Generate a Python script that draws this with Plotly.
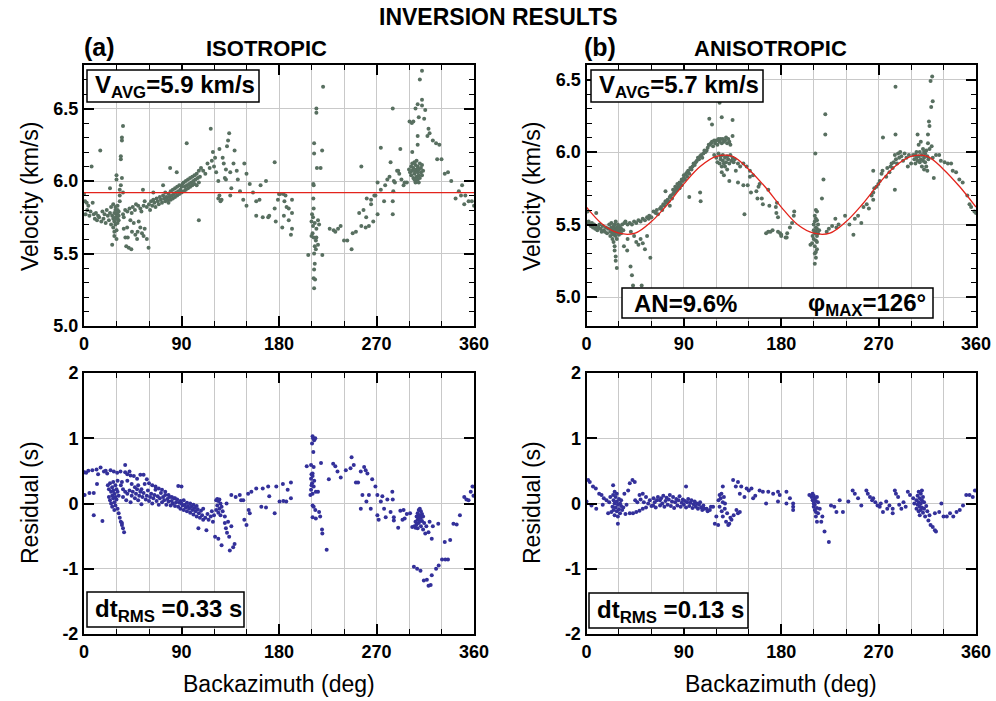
import plotly.graph_objects as go

# ---------------- DATA ----------------
# (a) isotropic: backazimuth (deg), velocity (km/s)
iso_vel_pts = [
    (0,5.91),(1,5.86),(1.5,5.77),(2.5,5.85),(3,5.80),(4,5.83),(5,5.76),(6,5.79),(7,6.10),(8,5.85),(9,5.77),(10,5.74),
    (11,5.78),(12,5.73),(13,5.76),(14,5.75),(15,6.21),(16,5.72),(17,5.79),(18,5.74),(19,5.77),(20,5.71),(21,5.80),
    (22,5.76),(23,5.73),(24,5.95),(24,5.78),(25,5.70),(25,5.82),(26,5.76),(26,5.56),(27,5.74),(27,5.68),(27,5.84),
    (28,5.78),(28,5.72),(28,5.65),(28,5.62),(29,5.80),(29,5.75),(29,5.70),(29,5.82),(30,5.77),(30,5.74),(30,5.66),
    (30,5.60),(30,6.01),(30,6.04),(31,5.78),(31,5.74),(31,5.80),(31,5.83),(31,5.71),(32,5.76),(32,5.73),(32,5.79),
    (33,5.90),(33,5.94),(33,5.86),(34,6.15),(34,6.17),(34,5.97),(35,6.28),(35,6.30),(36,6.38),(35,6.02),(36,5.92),
    (36.7,5.67),(39.8,5.68),(38.2,5.61),(40.4,5.61),(39,5.55),(41.3,5.54),(43.7,5.53),(44.3,5.65),(47.4,5.63),
    (49,5.60),(49.5,5.65),(52,5.68),(53.5,5.64),(55,5.62),(56,5.67),(58,5.60),(59.6,5.54),(45.9,5.71),(50.5,5.72),
    (42.8,5.73),(36.7,5.75),
    (36,5.77),(38,5.80),(40,5.79),(42,5.81),(44,5.78),(45,5.82),(47,5.80),(48,5.84),(50,5.83),(52,5.81),(53,5.79),
    (54.4,5.94),(55,5.83),(56,5.86),(58,5.82),(60,5.84),(61,5.80),(62,5.86),(63,5.83),(64,5.92),(64,5.87),(65,5.85),
    (66,5.82),(67,5.88),(68,5.86),(69,5.84),(70,5.89),(71,5.87),(72,5.85),(73,5.97),(73,5.90),(74,5.88),(75,5.86),
    (75,5.92),(76,5.89),(77,5.87),(78,5.91),(78,5.85),(79,5.89),(79.5,6.09),(80,5.93),(80,5.87),(81,5.90),(82,5.88),
    (82,5.94),(83,5.91),(84,5.89),(84,5.95),(85,5.92),(85.6,6.06),(86,5.90),(86,5.96),(87,5.93),(88,5.91),(88,5.97),
    (89,5.94),(90,5.92),(90,5.96),(91,5.98),(92,5.93),(92,5.99),(93,5.96),(94,5.94),(94,6.00),(94.8,6.26),(95,5.97),
    (96,5.95),(96,6.01),(97,5.98),(98,5.96),(98,6.02),(99,5.99),(100,5.97),(100,6.03),(101,6.00),(102,5.98),(102,6.04),
    (103,6.01),(104,6.05),(104,5.97),(105,6.02),(106,6.07),(106,5.99),(106,5.73),(107,6.03),(108,6.09),
    (110,6.07),(112,6.05),(114,6.12),(116,6.09),(117,6.36),(118,6.14),(119,6.20),(120,6.10),(121,6.16),(122,6.06),
    (124,6.00),(124,5.88),(125,6.22),(125,5.90),(126,5.86),(127,5.87),(128,6.16),(129,6.12),(130,6.02),(131,6.01),
    (131,6.08),(132,6.24),(133,6.28),(134,6.33),(135,5.90),(135,6.06),(136,5.95),(138,6.12),(139,6.21),(141,6.07),
    (142,6.01),(144,5.93),(147,5.87),(148,6.12),(150,6.05),(150,5.83),(153,5.98),(156,5.92),(159,5.86),(159,5.76),
    (162,5.87),(163,5.97),(165,5.75),(168,6.00),(170,5.75),(171,5.76),(176,6.13),(176,5.81),(177,5.72),(179,5.87),
    (180,5.91),(181,5.91),(183,5.68),(184,5.91),(184.5,5.76),(185,5.86),(186,5.90),(187,5.82),(189,5.81),(189,5.73),
    (191,5.63),(192,5.87),(192,5.78),(192,5.67),
    (220.7,6.65),(214.5,6.50),(214.5,6.47),(212.4,6.26),(212.4,6.19),(219.8,6.21),(215,6.09),(218.4,6.09),(211.7,5.98),
    (212,5.97),(211.7,5.88),(212,5.81),(210.5,5.77),(211.4,5.75),(216,5.73),(210,5.72),(213,5.71),(217,5.70),
    (211.4,5.69),(214.5,5.67),(211,5.64),(210,5.62),(212,5.61),(214.5,5.61),(214,5.59),(216,5.56),(213,5.55),
    (214,5.53),(207,5.49),(220,5.49),(212.4,5.50),(213,5.43),(212.4,5.39),(212,5.33),(213.3,5.32),(212.4,5.26),
    (226.8,5.67),(230.5,5.66),(232,5.65),(234.5,5.67),(236.9,5.69),(240,5.59),(243,5.59),(247,5.53),(248,5.64),
    (251,5.65),(254,5.78),(256,6.10),(256,5.69),(258,5.80),(260,5.68),(260.5,5.75),(261,5.88),(263,5.69),(265,5.87),
    (265,5.84),(267,5.72),(268,5.90),(269,5.90),(271,5.77),(271,5.99),(274,6.23),(274,5.94),(277,5.86),(278,5.97),
    (280,6.01),(282,6.03),(283,6.13),(285,6.50),(285,5.77),(285,5.86),(285.5,5.93),(286,6.00),(287,5.99),(289,6.07),
    (290,6.07),(291,6.05),(292,6.22),(293,6.01),(295,5.97),(296,5.99),(298,5.99),
    (300,6.08),(301,6.06),(302,6.10),(302,6.04),(303,6.07),(303,6.12),(304,6.02),(304,6.09),(305,6.05),(305,6.13),
    (306,6.00),(306,6.07),(306,6.11),(307,6.03),(307,6.08),(307,6.14),(308,6.01),(308,6.06),(308,6.10),(309,6.04),
    (309,6.08),(310,6.02),(310,6.12),(311,6.06),(311,6.09),(312,6.04),(312,6.11),(313,6.07),(306,5.99),(305,6.01),
    (309,5.99),
    (300.5,6.41),(302.6,6.40),(304,6.41),(306,6.50),(308,6.53),(312,6.56),(312,6.52),(310,6.70),(312,6.76),(309,6.44),
    (314,6.43),(315,6.49),(308,6.31),(308,6.25),(303,6.20),(318,6.36),(319,6.33),(317,6.31),(322,6.28),(325,6.26),
    (328,6.25),(326,6.15),(330,6.15),(333,6.05),(336,6.06),(339,6.00),(346,5.93),(343,5.88),(348,5.90),(349,5.97),
    (351,5.84),(352,5.90),(355,5.86),(358,5.86),(360,5.83),
]
iso_vavg = 5.92

# (b) anisotropic: backazimuth (deg), velocity (km/s)
ani_vel_pts = [
    (0,5.51),(1,5.59),(2,5.52),(3,5.50),(4,5.49),(5,5.51),(6,5.48),(7,5.50),(8,5.47),(9,5.58),(9,5.49),(10,5.46),
    (11,5.48),(12,5.50),(13,5.47),(14,5.45),(15,5.49),(16,5.46),(17,5.45),(18,5.48),(19,5.44),(20,5.47),(21,5.50),
    (22,5.45),(22,5.42),(23,5.48),(23,5.51),(24,5.44),(24,5.47),(24,5.40),(25,5.49),(25,5.45),(25,5.43),(25,5.38),
    (26,5.47),(26,5.44),(26,5.50),(26,5.35),(26,5.32),(27,5.46),(27,5.42),(27,5.52),(27,5.28),(27,5.25),(28,5.45),
    (28,5.48),(28,5.40),(28,5.20),(29,5.44),(29,5.47),(29,5.50),(30,5.46),(30,5.43),(30,5.49),(31,5.45),(31,5.48),
    (32,5.44),(32,5.47),(33,5.50),(34,5.46),(35,5.51),(34.6,5.35),(37.6,5.32),(40.7,5.21),(42,5.15),(43,5.08),
    (51,5.08),(38,5.40),(41,5.45),(44,5.42),(46,5.38),(48,5.36),(50,5.40),(52,5.37),(54,5.33),(56,5.42),(59,5.27),
    (36,5.52),(38,5.50),(40,5.51),(42,5.50),(44,5.52),(46,5.51),(48,5.53),(50,5.52),(52,5.54),(54,5.53),(56,5.55),
    (57.5,5.54),(58,5.56),(60,5.55),(62,5.59),(64,5.58),(65,5.60),(66,5.57),(68,5.61),(69,5.62),(70,5.60),(71,5.64),
    (72,5.63),(73,5.66),(73,5.73),(74,5.65),(75,5.67),(76,5.66),(77,5.69),(77,5.63),(78,5.70),(79,5.68),(80,5.71),
    (80,5.74),(81,5.72),(82,5.73),(82,5.76),(83,5.75),(84,5.74),(84,5.78),(85,5.76),(86,5.79),(86,5.75),(87,5.78),
    (88,5.81),(88,5.77),(89,5.80),(90,5.84),(90,5.82),(91,5.81),(92,5.85),(93,5.83),(93,5.86),(94,5.87),(95,5.85),
    (95,5.69),(96,5.89),(97,5.88),(98,5.90),(99,5.92),(100,5.91),(101,5.93),(102,5.94),(103,5.96),(104,5.95),
    (105,5.97),(105,5.72),(105.5,5.66),(106,5.98),(107,5.96),(108,5.99),(109,6.01),(110,6.00),(111,6.01),(112,6.03),
    (113,6.05),(113.5,6.23),(114,6.05),(115,6.06),(116,6.19),(116,6.07),(117,6.04),(118,6.08),(119,6.06),(120,6.08),
    (121,6.05),(122,6.09),(123,6.34),(123,6.07),(124,6.09),(125,6.24),(125,6.06),(126,6.09),(127,6.07),(128,6.08),
    (129,6.10),(130,6.06),(131,6.09),(132,6.07),(133,6.05),(135,6.11),(135,6.22),
    (118,5.98),(120,5.96),(121,5.93),(122,5.99),(123,5.92),(124,5.95),(124,5.97),(125,5.86),(125,5.90),(126,5.94),
    (126,5.98),(127,5.92),(127,5.84),(128,5.96),(128,5.90),(129,5.93),(130,5.97),(130,5.88),(131,5.95),(132,5.92),
    (132,5.80),(133,5.98),(134,5.94),(135,5.96),(136,5.93),(137,5.95),(138,5.87),(140,5.79),(140,5.92),(142,5.90),
    (145,5.77),(145,5.92),(146,5.57),(148,5.90),(149,5.77),(151,5.83),(151,5.87),(152,5.72),(154,5.84),(157,5.73),
    (158,5.68),(159,5.76),(160,5.78),(162,5.68),(163,5.64),(166,5.44),(168,5.74),(168,5.45),(169,5.63),(170,5.45),
    (172,5.46),(175,5.62),(175.5,5.58),(177,5.55),(177,5.45),(180,5.43),(180,5.42),(185,5.41),(179,5.44),(184,5.41),
    (185.5,5.44),(188,5.48),(190,5.51),(191.6,5.56),(192,5.59),(176,5.65),
    (211.5,5.99),(220.7,6.26),(220.7,6.12),(219,5.81),(217.6,5.68),(212,5.60),(213,5.59),(211,5.56),(212,5.54),
    (213,5.53),(210,5.50),(211,5.52),(212,5.48),(213,5.47),(214,5.50),(210,5.46),(211,5.44),(212,5.45),(213,5.42),
    (214,5.44),(209,5.42),(210,5.40),(212,5.39),(213,5.38),(208.5,5.37),(211,5.35),(213,5.33),(212,5.31),(211,5.30),
    (212,5.27),(211,5.23),(207,5.36),(215,5.46),
    (222,5.45),(224,5.47),(227,5.49),(230,5.54),(231,5.48),(233,5.50),(239,5.56),(243,5.50),(246.7,5.43),(248,5.54),
    (251,5.56),(254,5.51),(256,5.62),(259,5.64),(261,5.61),(263.5,5.70),(265,5.67),(265,5.72),(266,5.75),(268,5.76),
    (269.7,5.78),(271,5.80),(272.7,5.85),(273.6,5.87),(265,5.87),(274,6.10),(277,5.83),(278,5.89),(280,5.86),
    (281,5.90),(282,5.92),(283,5.89),(284,5.93),(285,5.74),(285,5.98),(285.6,6.12),(285.6,6.45),(286,5.95),(287,5.92),
    (288,5.99),(289,5.96),(290,6.00),(291,5.97),(292.6,5.94),(294,5.99),(295.7,5.96),(297,5.90),(298,5.98),(300,5.92),
    (302,5.98),
    (303,5.95),(304,5.98),(304,5.92),(305,6.00),(305,5.96),(306,6.12),(306,5.94),(307,6.05),(307,5.97),(308,5.93),
    (308,6.00),(309,6.07),(309,5.95),(310,5.98),(310,5.90),(311,6.02),(311,5.94),(312,6.00),(312,5.96),(312,5.88),
    (313,5.99),(313,5.93),(314,6.01),(314,5.90),(315,5.97),(315,5.87),(315.6,6.12),(315.6,6.06),(316,5.95),
    (316.5,6.21),(317,6.02),(317,6.18),(318,6.49),(318.6,6.31),(319,6.04),(319.5,6.52),(320,6.35),(320,5.96),
    (321,5.82),
    (323,5.98),(326,5.98),(327.5,5.94),(331,5.93),(334,5.92),(337,5.92),(338.5,5.87),(341.6,5.86),(344.6,5.81),
    (347.7,5.79),(352,5.70),(354,5.64),(355.5,5.62),(358.5,5.59),(360,5.58),
]
# fitted anisotropic curve, every 15 deg
fit_baz = [0,15,30,45,60,75,90,105,120,135,150,165,180,195,210,225,240,255,270,285,300,315,330,345,360]
fit_vel = [5.62,5.50,5.44,5.44,5.52,5.64,5.78,5.90,5.97,5.97,5.88,5.76,5.62,5.50,5.44,5.44,5.52,5.64,5.78,5.90,
           5.97,5.97,5.88,5.76,5.62]

# (a) isotropic residuals (s)
iso_res_pts = [
    (0.5,0.48),(0.6,0.13),(2,0.47),(4,0.50),(5,0.16),(7.7,0.51),(9,0.16),(9,-0.18),(11.6,0.52),(12,0.30),(13,0.45),
    (15.3,0.55),(17,-0.27),(18.4,0.49),(20,0.50),(21.4,0.46),(22,0.28),(23,0.22),(23,0.10),(24,0.31),(24.5,0.51),
    (24,0.05),(25,0.18),(25,0.00),(26,0.25),(26,0.12),(26,-0.05),(27,0.33),(27,0.20),(27,0.08),(27.5,0.49),(28,0.15),
    (28,0.02),(28,-0.10),(29,0.28),(29,0.10),(29,-0.03),(30,0.22),(30,0.06),(30.6,0.47),(31,0.18),(31,0.35),
    (31,-0.08),(32,0.12),(32,-0.15),(33,-0.22),(33.7,0.49),(34,-0.28),(35,-0.30),(35,-0.33),(36,-0.38),(37,-0.44),
    (34,0.28),(35,0.33),(36,0.22),(38,0.59),(38,0.48),(40,0.45),(40,0.35),(42,0.49),(43,0.43),(44,0.30),(46,0.42),
    (47,0.25),(49,0.38),(50,0.28),(52,0.44),(53,0.22),(55,0.44),(56,0.30),(58,0.37),(60,0.31),(63,0.28),(66,0.26),
    (69,0.23),(72,0.21),(75,0.18),(78,0.13),(81,0.10),(84,0.08),(87,0.27),(90,0.26),
    (36,0.10),(38,0.18),(39,0.05),(40,0.15),(42,0.20),(43,0.02),(44,0.12),(45,0.18),(47,0.08),(48,0.15),(49,0.22),
    (50,0.05),(51,0.12),(52,0.18),(53,-0.01),(54,0.10),(55,0.16),(57,0.06),(58,0.12),(59,0.20),(60,0.04),(61,0.10),
    (62,0.15),(63,0.00),(64,0.08),(65,0.13),(66,0.21),(67,0.04),(68,0.11),(69,-0.02),(70,0.08),(71,0.16),(72,0.02),
    (73,0.10),(74,0.05),(75,0.13),(76,-0.02),(77,0.07),(78,0.03),(79,0.10),(80,-0.03),(81,0.04),(82,0.00),(83,0.08),
    (84,-0.04),(85,0.02),(86,0.06),(87,-0.05),(88,0.01),(89,0.04),(89,-0.08),(90,0.00),(91,-0.03),(92,0.05),
    (92,-0.10),(93,-0.02),(94,-0.06),(95,0.01),(95,-0.12),(96,-0.04),(97,-0.08),(98,0.00),(98,-0.14),(99,-0.05),
    (100,-0.10),(101,-0.02),(101,-0.17),(102,-0.07),(103,-0.12),(104,-0.04),(104,-0.20),(105,-0.09),(105.6,-0.38),
    (106,-0.15),(107,-0.22),(108,-0.11),(109,-0.18),(110,-0.25),(110,-0.08),(112,-0.22),(113,-0.41),(114,-0.16),
    (115,-0.25),(117,-0.20),(118,-0.12),(119,-0.28),(120,-0.18),(121,-0.51),(122,-0.10),(122,0.05),(123,0.07),
    (123,-0.03),(124,-0.54),(124,0.04),(124,-0.14),(125,0.06),(125,-0.08),(126,-0.18),(126,0.00),(127,-0.64),
    (127,-0.05),(128,-0.12),(130,-0.20),(130,-0.30),(131,-0.38),(131.6,0.00),(132,-0.45),(133,-0.28),(134,-0.51),
    (134.6,-0.72),(136,0.13),(136,-0.35),(137.7,-0.67),(139,-0.62),(140,0.10),(143.8,0.13),(145,0.05),(147,0.05),
    (148,-0.25),(150,-0.33),(151.5,0.15),(152,-0.10),(153,-0.15),(154.5,0.18),(159,0.23),(163.7,-0.05),(165,0.23),
    (168,-0.06),(170,0.26),(171,0.11),(176,-0.15),(177.5,0.26),(180.5,0.03),(183.6,0.30),(184,0.04),(186.7,0.03),
    (188,0.21),(191,0.32),(191,0.08),
    (205.6,0.57),(211,1.03),(211.5,1.00),(212.5,0.97),(213.5,1.00),(210.5,0.92),(211.7,0.79),(209.6,0.59),(212,0.56),
    (211,0.46),(209.6,0.38),(210.5,0.31),(212,0.26),(209.6,0.21),(211,0.15),(209,0.13),(214,0.18),(216,0.18),
    (211,-0.03),(212,-0.05),(213.5,-0.10),(217,-0.13),(211,-0.21),(214,-0.23),(218,-0.20),(219.7,-0.40),(220,-0.46),
    (224,-0.71),(218.8,0.62),(210,0.45),(211,0.42),(212.5,0.35),(210,0.28),
    (226,0.37),(230,0.61),(232,0.57),(234,0.49),(237,0.40),(241.7,0.51),(246,0.54),(247,0.71),(249,0.59),(251,0.32),
    (253,0.32),(255.5,0.49),(255.5,-0.08),(257,0.13),(258.6,0.56),(260,0.51),(261.6,0.46),(260.7,0.03),(263,0.13),
    (264.7,-0.08),(266,0.37),(269,0.26),(270.8,0.13),(270.8,-0.18),(272,-0.25),(274,0.03),(275.4,0.11),(277,-0.08),
    (278.5,-0.21),(280,0.06),(283,-0.13),(284.6,0.18),(285,0.06),(286,-0.21),(286,-0.26),(290,-0.37),(292,-0.11),
    (294,-0.25),(295,-0.10),(296,-0.23),(298,-0.16),(301,-0.15),(303,-0.36),
    (305,-0.35),(306,-0.28),(306,-0.37),(307,-0.20),(307,-0.32),(308,-0.15),(308,-0.25),(308,-0.38),(309,-0.10),
    (309,-0.22),(309,-0.30),(310,-0.08),(310,-0.18),(310,-0.27),(311,-0.12),(311,-0.22),(311,-0.35),(312,-0.16),
    (312,-0.27),(313,-0.20),(313,-0.40),(314,-0.30),(315,-0.46),(316,-0.35),(318,-0.44),(321,-0.54),(319,-0.28),
    (322,-0.35),(327,-0.31),
    (304.5,-0.97),(307.5,-1.00),(310.6,-1.03),(313.7,-1.18),(316.5,-1.17),(318,-1.26),(320,-1.25),(321,-1.10),
    (325,-1.00),(327.4,-0.95),(330.5,-0.86),(333.5,-0.86),(336,-0.86),(333,-0.59),(338,-0.56),(341,-0.31),
    (344,-0.32),(347,-0.18),(351,0.10),(353,0.06),(355,0.05),(357,0.18),(358.6,0.26),(359.5,0.12),
]

# (b) anisotropic residuals (s)
ani_res_pts = [
    (0,0.03),(1.5,0.36),(3,0.33),(4.6,-0.03),(6,0.26),(8.6,0.23),(9,-0.08),(11.7,0.15),(13.9,0.13),(15,-0.02),
    (16,0.08),(18.5,0.05),(20,-0.15),(21,0.02),(22,0.10),(23,-0.13),(24.6,0.28),(24.6,0.13),(24,-0.05),(25,0.05),
    (25,-0.10),(26,0.18),(26,0.00),(26,-0.18),(27,0.10),(27,-0.06),(28,0.03),(28,-0.12),(28,0.15),(29,-0.31),
    (29,-0.02),(29,-0.20),(30,0.07),(30,-0.09),(31,0.00),(31,-0.15),(32,-0.04),(32,0.05),(33,-0.10),(34,-0.06),
    (35,0.15),(36,-0.16),(37,-0.02),(38.5,0.20),(40,0.31),(40,-0.15),(42.5,0.36),(43,-0.15),(44.6,0.33),(45,0.05),
    (46,-0.13),(47,0.02),(49,0.13),(49,-0.11),(50,0.06),(52,0.15),(52,-0.08),(53,0.02),(55,0.10),(55,-0.06),
    (57,0.00),(58.5,0.05),(60,-0.04),(61.6,-0.03),(62,0.08),(63,0.02),(64,-0.06),(65,0.05),(66,0.10),(67.8,0.05),
    (68,-0.03),(69,0.08),(70,0.00),(71,0.12),(72,-0.05),(73,0.04),(74,0.09),(75,-0.02),(76,0.06),(77,0.13),
    (78,-0.04),(79,0.03),(80,0.10),(81,-0.07),(82,0.02),(83,0.07),(84,-0.03),(85,0.05),(86,0.11),(87,-0.05),
    (88,0.01),(89,0.06),(90,-0.02),(91,0.04),(92,0.26),(92,-0.06),(93,0.02),(94,0.07),(95,-0.04),(96,0.01),
    (97,0.05),(98,-0.07),(99,-0.01),(100,0.03),(101,-0.05),(102,0.00),(103,-0.08),(104,-0.02),(105,0.02),
    (106,-0.06),(107,-0.10),(108,-0.03),(109,-0.08),(111,-0.08),(112,-0.12),(114,-0.10),(115,-0.05),(117,-0.05),
    (118.6,-0.31),(120,-0.20),(121.7,-0.33),(122,0.05),(123,0.13),(123,-0.05),(124,0.08),(124.7,0.15),(125,-0.12),
    (126,0.26),(126,0.02),(126,-0.20),(127,0.10),(127.8,-0.08),(128,0.00),(129,-0.28),(130,-0.15),(131,-0.33),
    (132,-0.31),(133,-0.22),(134,-0.25),(135.5,0.36),(136,-0.18),(138,0.26),(138.6,-0.10),(140,0.33),(140,-0.15),
    (141.7,0.15),(141.7,-0.13),(143,0.26),(146,0.10),(148,0.23),(150,0.20),(152.5,0.23),(154,0.08),(156,0.12),
    (160,0.20),(163,0.18),(166,0.00),(168,0.18),(172.5,0.15),(177,0.18),(177,0.03),(178.6,0.13),(184.8,0.18),
    (184.8,0.00),(188,0.08),(191,0.00),(191,-0.05),(191,-0.10),
    (206,0.13),(208,0.10),(209,0.15),(209,0.05),(210,0.12),(210,0.00),(210,-0.05),(211,0.08),(211,-0.02),
    (211,-0.10),(212,0.04),(212,-0.13),(212,-0.20),(213,0.10),(213,-0.07),(213,-0.28),(214,0.02),(214,-0.15),
    (215.6,-0.08),(218,-0.20),(220,-0.43),(224,-0.59),(217,-0.28),
    (226,-0.03),(229,-0.05),(231,-0.13),(234,0.05),(237,-0.13),(242,0.03),(246,0.20),(248,0.15),(251,0.08),
    (254,-0.03),(258.7,0.20),(260,0.15),(262,0.10),(264,0.05),(265,0.08),(267,0.02),(269,-0.03),(271,-0.05),
    (272,0.00),(274,-0.13),(277,0.03),(278,-0.08),(280,-0.03),(283,-0.08),(283,-0.15),(285,0.20),(286,0.15),
    (288,0.10),(289,-0.02),(291,-0.08),(293,0.02),(295,-0.05),(297,0.18),(299,0.13),(302,0.08),(303,0.00),
    (305,0.05),(305,-0.08),(306,0.12),(306,-0.02),(307,0.18),(307,0.02),(307,-0.12),(308,0.08),(308,-0.05),
    (308,-0.18),(309,0.15),(309,0.00),(309,-0.10),(310,0.20),(310,0.05),(310,-0.06),(311,0.10),(311,-0.14),
    (312,0.02),(312,-0.08),(313,-0.20),(314,-0.04),(315,-0.12),(316,-0.26),(317,-0.18),
    (318,-0.33),(320,-0.36),(322,-0.41),(323,-0.43),(322,-0.15),(326,-0.13),(328,0.00),(330,-0.20),(333,-0.20),
    (336,-0.15),(339,-0.20),(342,-0.13),(345,-0.10),(348,-0.03),(351,0.13),(354,0.13),(357,0.10),(359,0.20),
]

baz_ticks = [0, 90, 180, 270, 360]
res_ticks = [-2, -1, 0, 1, 2]
res_ticklabels = ["-2", "-1", "0", "1", "2"]
vel_ticks = [5.0, 5.5, 6.0, 6.5]

# ---------------- STYLE / LAYOUT ----------------
W, H = 996, 701
def px(x): return x / W
def py(y): return 1 - y / H

VEL_COLOR = "#586f60"
RES_COLOR = "#33309a"
RED = "#e3241c"
GRID = "#c9c9c9"
TICKFONT = dict(family="Liberation Sans, Arial, Helvetica, sans-serif", size=18, color="black", weight="bold")
TXT = "Liberation Sans, Arial, Helvetica, sans-serif"

fig = go.Figure()

def unzip(pts):
    return [p[0] for p in pts], [p[1] for p in pts]

panels = [
    ("x", "y", iso_vel_pts, VEL_COLOR),
    ("x2", "y2", ani_vel_pts, VEL_COLOR),
    ("x3", "y3", iso_res_pts, RES_COLOR),
    ("x4", "y4", ani_res_pts, RES_COLOR),
]
for xa, ya, pts, col in panels:
    xs, ys = unzip(pts)
    fig.add_trace(go.Scatter(x=xs, y=ys, mode="markers", xaxis=xa, yaxis=ya,
                             marker=dict(size=4, color=col), showlegend=False))

fig.add_trace(go.Scatter(x=[0, 360], y=[iso_vavg, iso_vavg], mode="lines", xaxis="x", yaxis="y",
                         line=dict(color=RED, width=1.3), showlegend=False))
fig.add_trace(go.Scatter(x=fit_baz, y=fit_vel, mode="lines", xaxis="x2", yaxis="y2",
                         line=dict(color=RED, width=1.3, shape="spline", smoothing=1.0), showlegend=False))

xdom_l = [px(84), px(474)]
xdom_r = [px(586.5), px(976)]
ydom_t = [py(326), py(65)]
ydom_b = [py(634), py(373)]

def xaxis(dom, anchor):
    return dict(domain=dom, anchor=anchor, range=[0, 360], tickvals=baz_ticks, ticks="inside",
                ticklen=10, tickwidth=1.5, tickcolor="black", showline=True, linecolor="black",
                linewidth=2, mirror="ticks", showgrid=True, gridcolor=GRID, gridwidth=1,
                zeroline=False, tickfont=TICKFONT, automargin=False,
                minor=dict(dtick=30, tick0=0, ticks="inside", ticklen=5, tickwidth=1.2,
                           tickcolor="black", showgrid=True, gridcolor=GRID, gridwidth=1))

def yvel(dom, anchor, rng):
    return dict(domain=dom, anchor=anchor, range=rng, tickvals=vel_ticks, tickformat=".1f",
                ticks="inside", ticklen=10, tickwidth=1.5, tickcolor="black", showline=True,
                linecolor="black", linewidth=2, mirror="ticks", showgrid=True, gridcolor=GRID,
                gridwidth=1, zeroline=False, tickfont=TICKFONT, automargin=False,
                minor=dict(dtick=0.1, tick0=5.0, ticks="inside", ticklen=5, tickwidth=1.2,
                           tickcolor="black", showgrid=False))

def yres(dom, anchor):
    return dict(domain=dom, anchor=anchor, range=[-2, 2], tickvals=res_ticks, ticktext=res_ticklabels,
                ticks="inside", ticklen=10, tickwidth=1.5, tickcolor="black", showline=True,
                linecolor="black", linewidth=2, mirror="ticks", showgrid=True, gridcolor=GRID,
                gridwidth=1, zeroline=False, tickfont=TICKFONT, automargin=False)

fig.update_layout(
    width=W, height=H, margin=dict(l=0, r=0, t=0, b=0, pad=0, autoexpand=False),
    paper_bgcolor="white", plot_bgcolor="white",
    xaxis=xaxis(xdom_l, "y"), yaxis=yvel(ydom_t, "x", [5.0, 6.8]),
    xaxis2=xaxis(xdom_r, "y2"), yaxis2=yvel(ydom_t, "x2", [4.8, 6.6]),
    xaxis3=xaxis(xdom_l, "y3"), yaxis3=yres(ydom_b, "x3"),
    xaxis4=xaxis(xdom_r, "y4"), yaxis4=yres(ydom_b, "x4"),
)

shapes = []
annotations = []

def box(x0, y0, x1, y1):
    shapes.append(dict(type="rect", xref="paper", yref="paper", x0=px(x0), x1=px(x1),
                       y0=py(y1), y1=py(y0), fillcolor="white",
                       line=dict(color="black", width=1.5), layer="above"))

def text(x, y, s, size, bold=True, xanchor="center", angle=0, family=TXT):
    annotations.append(dict(xref="paper", yref="paper", x=px(x), y=py(y), text=s, showarrow=False,
                            xanchor=xanchor, yanchor="middle", textangle=angle,
                            font=dict(family=family, size=size, color="black",
                                      weight="bold" if bold else "normal")))

# titles
text(498, 17, "INVERSION RESULTS", 23)
text(99, 47, "(a)", 25)
text(266, 48, "ISOTROPIC", 22)
text(600, 47, "(b)", 25)
text(770, 48, "ANISOTROPIC", 22)

# axis titles
text(30, 196, "Velocity (km/s)", 23, bold=False, angle=-90)
text(30, 503, "Residual (s)", 23, bold=False, angle=-90)
text(532, 196, "Velocity (km/s)", 23, bold=False, angle=-90)
text(532, 503, "Residual (s)", 23, bold=False, angle=-90)
text(279, 684, "Backazimuth (deg)", 23, bold=False)
text(781, 684, "Backazimuth (deg)", 23, bold=False)

# boxes
box(87, 70, 259, 102)
text(93, 87, "V<sub>AVG</sub>=5.9 km/s", 24, xanchor="left")
box(591, 70, 763, 102)
text(597, 87, "V<sub>AVG</sub>=5.7 km/s", 24, xanchor="left")
box(622, 288, 933, 318)
text(632, 303, "AN=9.6%", 24, xanchor="left")
text(928, 304, "φ<sub>MAX</sub>=126°", 24, xanchor="right")
box(87, 592, 244, 627)
text(93, 610, "dt<sub>RMS</sub> =0.33 s", 24, xanchor="left")
box(589, 593, 748, 628)
text(595, 611, "dt<sub>RMS</sub> =0.13 s", 24, xanchor="left")

fig.update_layout(shapes=shapes, annotations=annotations)

fig.write_html("out.html")
